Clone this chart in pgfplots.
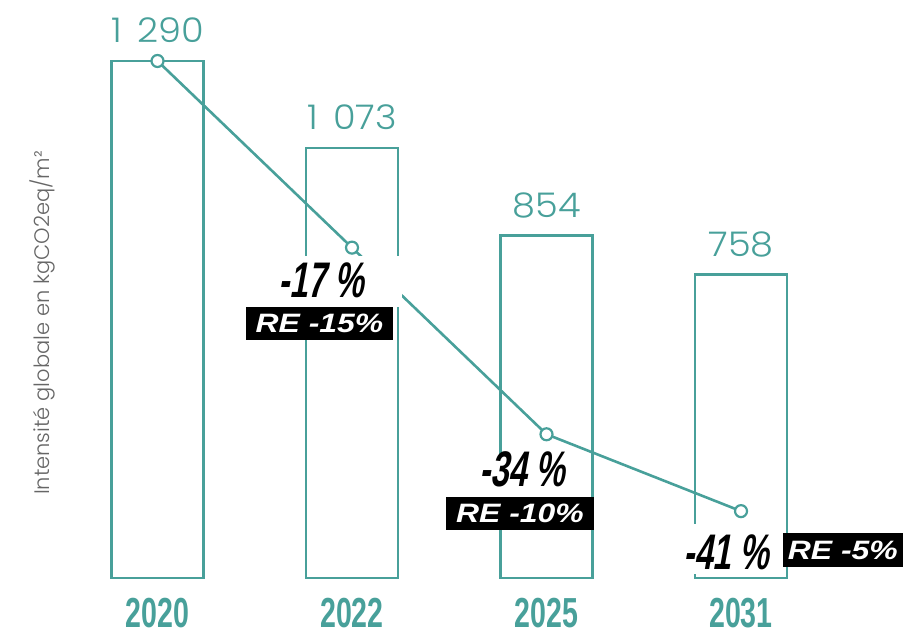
\documentclass[border=0pt]{standalone}
\usepackage{pgfplots}
\pgfplotsset{compat=1.18}
\usepackage{fontspec}
\setmainfont{Poppins Light}
\newfontfamily\valfont[FakeStretch=1.08]{Poppins Light}
\newfontfamily\condfont[FakeStretch=0.68]{Liberation Sans}
\newfontfamily\pctfont[FakeStretch=0.66,FakeSlant=0.18]{Liberation Sans}
\newfontfamily\refont[FakeStretch=1.2]{Liberation Sans}
\definecolor{teal}{HTML}{48A09A}
\definecolor{lblgray}{HTML}{666666}
\begin{document}
\begin{tikzpicture}
\useasboundingbox (0,0) rectangle (451.5pt,317.5pt);
\begin{axis}[
  at={(30.125pt,28.5pt)}, anchor=south west, scale only axis,
  width=389pt, height=258.5pt,
  xmin=-0.5, xmax=3.5, ymin=0, ymax=1290,
  axis line style={draw=none}, tick style={draw=none},
  ytick=\empty, xtick={0,1,2,3}, xticklabels={2020,2022,2025,2031},
  xticklabel style={font=\condfont\bfseries\fontsize{21}{21}\selectfont, text=teal, anchor=north, inner sep=0pt, yshift=-5.5pt},
  ybar, bar width=46pt, clip=false,
  nodes near coords, point meta=explicit symbolic,
  every node near coord/.append style={font=\valfont\fontsize{17}{17}\selectfont, text=teal, anchor=base, yshift=9pt, inner sep=0pt},
]
\addplot[draw=teal, line width=1.4pt, fill=none] coordinates {(0,1290)[1\hspace{0.45em}290] (1,1073)[1\hspace{0.45em}073] (2,854)[854] (3,758)[758]};
\end{axis}
\begin{axis}[
  at={(30.125pt,28.5pt)}, anchor=south west, scale only axis,
  width=389pt, height=258.5pt,
  xmin=-0.5, xmax=3.5, ymin=-47.09, ymax=0,
  hide axis, clip=false,
]
\addplot[teal, line width=1.3pt, mark=*, mark size=3pt, mark options={fill=white, draw=teal, line width=1.1pt}] coordinates {(0,0) (1,-17) (2,-34) (3,-41)};
% masks
\node[fill=white, inner sep=0pt, minimum width=76pt, minimum height=25.5pt] at (axis cs:0.866,-20.08) {};
\node[fill=white, inner sep=0pt, minimum width=39pt, minimum height=26.5pt] at (axis cs:1.776,-38.34) {};
\node[fill=white, inner sep=0pt, minimum width=52.5pt, minimum height=25pt] at (axis cs:2.938,-44.44) {};
% percentage labels
\node[inner sep=0pt, font=\pctfont\bfseries\fontsize{25}{25}\selectfont] at (axis cs:0.841,-19.95) {-17\,\%};
\node[inner sep=0pt, font=\pctfont\bfseries\fontsize{25}{25}\selectfont] at (axis cs:1.874,-37.16) {-34\,\%};
\node[inner sep=0pt, font=\pctfont\bfseries\fontsize{25}{25}\selectfont] at (axis cs:2.923,-44.72) {-41\,\%};
% RE boxes
\node[fill=black, text=white, inner sep=0pt, minimum width=73.5pt, minimum height=16.5pt, font=\refont\bfseries\itshape\fontsize{13.3}{13.3}\selectfont] at (axis cs:0.833,-23.91) {RE -15\%};
\node[fill=black, text=white, inner sep=0pt, minimum width=74pt, minimum height=16.5pt, font=\refont\bfseries\itshape\fontsize{13.3}{13.3}\selectfont] at (axis cs:1.864,-41.21) {RE -10\%};
\node[fill=black, text=white, inner sep=0pt, minimum width=60pt, minimum height=17pt, font=\refont\bfseries\itshape\fontsize{13.3}{13.3}\selectfont] at (axis cs:3.524,-44.54) {RE -5\%};
% y label
\node[rotate=90, inner sep=0pt, text=lblgray, font=\fontsize{10.5}{10.5}\selectfont] at (axis cs:-0.594,-23.86) {Intensité globale en kgCO2eq/m²};
\end{axis}
\end{tikzpicture}
\end{document}
